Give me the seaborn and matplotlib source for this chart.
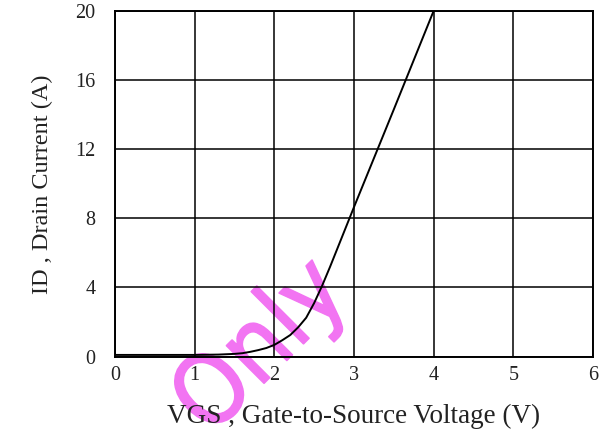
import matplotlib
matplotlib.use("Agg")
import matplotlib.pyplot as plt
import matplotlib.patheffects as pe
import seaborn as sns
import pandas as pd

# Transfer characteristic: drain current vs gate-to-source voltage
vgs = [0.0, 0.5, 1.0, 1.3, 1.5, 1.6, 1.7, 1.8, 1.9, 2.0, 2.1, 2.2, 2.3, 2.4,
       2.5, 2.6, 2.7, 2.8, 2.9, 3.0, 3.5, 4.0]
i_d = [0.1, 0.1, 0.1, 0.12, 0.16, 0.2, 0.28, 0.38, 0.5, 0.68, 0.95, 1.25, 1.7,
       2.25, 3.1, 4.1, 5.2, 6.35, 7.5, 8.65, 14.3, 20.0]

x_ticks = [0, 1, 2, 3, 4, 5, 6]
y_ticks = [0, 4, 8, 12, 16, 20]

df = pd.DataFrame({"VGS": vgs, "ID": i_d})

sns.set_style("white")
plt.rcParams["font.family"] = ["Liberation Serif", "DejaVu Serif"]

fig = plt.figure(figsize=(6.02, 4.36), dpi=100)
ax = fig.add_axes([0.191, 0.182, 0.794, 0.793])
ax.patch.set_visible(False)

sns.lineplot(data=df, x="VGS", y="ID", ax=ax, color="black", linewidth=1.4)

ax.set_xlim(0, 6)
ax.set_ylim(0, 20)
ax.set_xticks(x_ticks)
ax.set_yticks(y_ticks)
ax.set_xticklabels([str(t) for t in x_ticks])
ax.set_yticklabels([str(t) for t in y_ticks])
ax.grid(True, color="black", linewidth=1.1)
ax.set_axisbelow(True)
for s in ax.spines.values():
    s.set_color("black")
    s.set_linewidth(1.4)

ax.tick_params(axis="both", length=0, labelsize=14.5, colors="#222222")
ax.tick_params(axis="y", pad=14)
ax.tick_params(axis="x", pad=7)

ax.set_xlabel("VGS , Gate-to-Source Voltage (V)", fontsize=19.5, color="#222222", labelpad=13)
ax.set_ylabel("ID , Drain Current (A)", fontsize=17.5, color="#222222", labelpad=16)

# Watermark, drawn beneath the axes content
wm_color = "#f274f2"
fig.text(0.435, 0.202, "Only", fontsize=70, color=wm_color, zorder=-1,
         rotation=45, ha="center", va="center", rotation_mode="anchor",
         family="DejaVu Sans", fontstretch="condensed",
         path_effects=[pe.withStroke(linewidth=1.2, foreground=wm_color)])

fig.savefig("out.png", dpi=100)
